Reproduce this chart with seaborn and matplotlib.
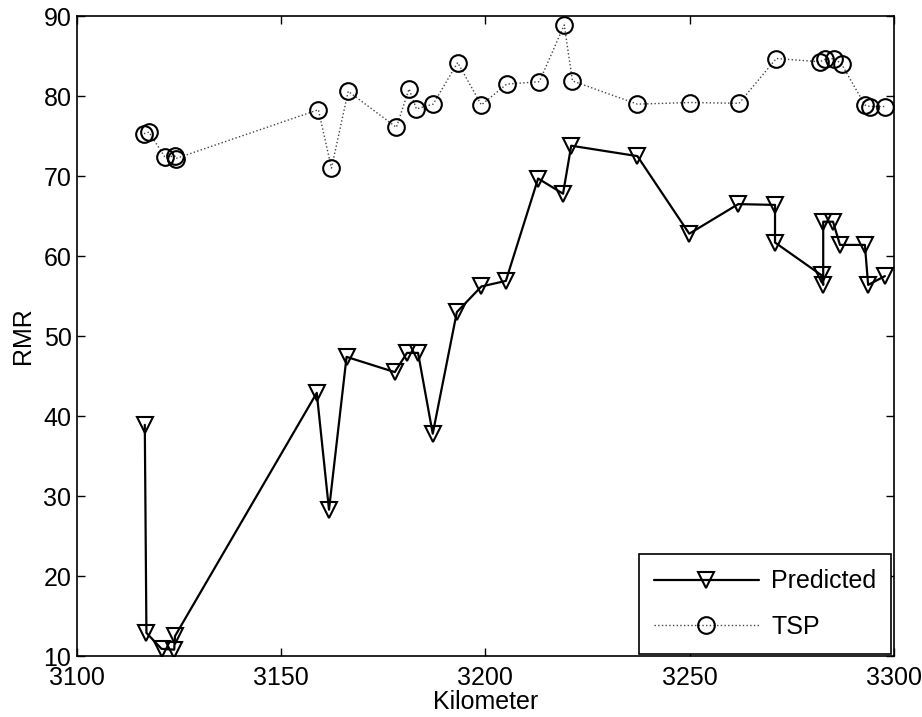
import pandas as pd
import matplotlib
matplotlib.use("Agg")
import matplotlib.pyplot as plt
import seaborn as sns

# Predicted RMR along the route
pred_km = [3116.6, 3117.0, 3120.7, 3123.8, 3124.0, 3158.7, 3161.7, 3166.0, 3177.8,
           3180.8, 3183.5, 3187.1, 3193.0, 3199.0, 3205.0, 3212.9, 3219.0, 3221.0,
           3237.2, 3249.9, 3261.9, 3270.9, 3270.9, 3282.3, 3282.7, 3282.7, 3285.1,
           3286.8, 3292.9, 3293.7, 3297.8]
pred_rmr = [38.9, 12.9, 10.9, 10.8, 12.5, 42.9, 28.3, 47.4, 45.5,
            47.9, 47.9, 37.8, 53.0, 56.2, 56.9, 69.7, 67.8, 73.8,
            72.5, 62.8, 66.5, 66.4, 61.7, 57.6, 56.4, 64.3, 64.3,
            61.4, 61.4, 56.4, 57.5]

# TSP measured RMR
tsp_km = [3116.4, 3117.6, 3121.5, 3124.0, 3124.2, 3159.1, 3162.3, 3166.4, 3178.2,
          3181.3, 3183.1, 3187.2, 3193.2, 3199.0, 3205.2, 3213.2, 3219.3, 3221.3,
          3237.2, 3250.2, 3262.1, 3271.2, 3281.9, 3283.1, 3285.4, 3287.2, 3292.9,
          3294.1, 3297.9]
tsp_rmr = [75.3, 75.5, 72.4, 72.5, 72.2, 78.3, 71.0, 80.6, 76.1,
           80.9, 78.4, 79.0, 84.2, 78.9, 81.5, 81.8, 88.9, 81.9,
           79.0, 79.2, 79.1, 84.7, 84.3, 84.6, 84.7, 84.0, 78.9,
           78.7, 78.7]

df_pred = pd.DataFrame({"km": pred_km, "rmr": pred_rmr})
df_tsp = pd.DataFrame({"km": tsp_km, "rmr": tsp_rmr})

sns.set_style("ticks")
plt.rcParams["font.family"] = ["Liberation Sans", "DejaVu Sans"]
plt.rcParams["text.color"] = "black"
plt.rcParams["axes.labelcolor"] = "black"

fig = plt.figure(figsize=(9.22, 7.17), dpi=100)
ax = fig.add_axes([0.0835, 0.085, 0.886, 0.8925])

sns.lineplot(data=df_pred, x="km", y="rmr", sort=False, estimator=None, ax=ax,
             color="black", linewidth=1.6, marker="v", markersize=12,
             markerfacecolor="none", markeredgecolor="black", markeredgewidth=1.5,
             label="Predicted")
sns.lineplot(data=df_tsp, x="km", y="rmr", sort=False, estimator=None, ax=ax,
             color="#444444", linewidth=1.0, linestyle=":", marker="o", markersize=12,
             markerfacecolor="none", markeredgecolor="black", markeredgewidth=1.5,
             label="TSP")

ax.set_xlim(3100, 3300)
ax.set_ylim(10, 90)
ax.set_xticks(range(3100, 3301, 50))
ax.set_yticks(range(10, 91, 10))
ax.tick_params(direction="in", top=True, right=True, labelsize=18, length=6,
               width=1, colors="black")
ax.tick_params(axis="x", pad=7)
ax.tick_params(axis="y", pad=4)
for s in ax.spines.values():
    s.set_visible(True)
    s.set_linewidth(1.2)
    s.set_color("black")
ax.set_xlabel("Kilometer", fontsize=18, labelpad=0)
ax.set_ylabel("RMR", fontsize=18, labelpad=6)

leg = ax.legend(loc="lower right", fontsize=18, frameon=True, fancybox=False,
                borderaxespad=0.1, handlelength=4.2, handletextpad=0.5,
                labelspacing=0.85, borderpad=0.6)
leg.get_frame().set_edgecolor("black")
leg.get_frame().set_linewidth(1.2)
leg.get_frame().set_alpha(1)

fig.savefig("out.png", dpi=100)
